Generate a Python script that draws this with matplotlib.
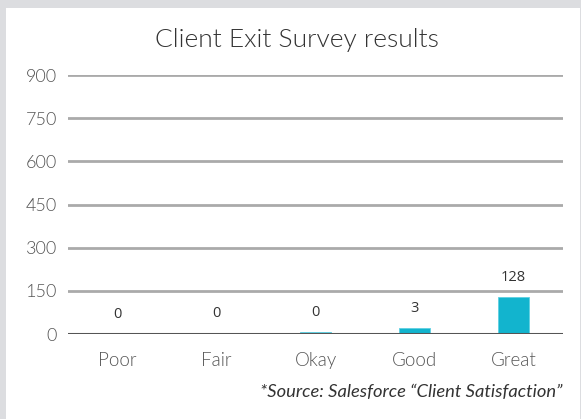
import matplotlib.pyplot as plt
from matplotlib.patches import Rectangle

# Survey data
categories = ["Poor", "Fair", "Okay", "Good", "Great"]
bar_heights = [0, 5, 8, 20, 128]
bar_labels = ["0", "0", "0", "3", "128"]
y_ticks = [0, 150, 300, 450, 600, 750, 900]

W, H = 581, 419
fig = plt.figure(figsize=(W / 100, H / 100), dpi=100)
fig.patch.set_facecolor("#dcdde0")

# white card on the gray frame
fig.patches.append(Rectangle((6 / W, 0), (580 - 6) / W, (H - 8) / H,
                             transform=fig.transFigure, facecolor="white",
                             edgecolor="none", zorder=-10))

left, right = 68 / W, 563 / W
bottom, top = 1 - 334 / H, 1 - 75 / H
ax = fig.add_axes([left, bottom, right - left, top - bottom])
ax.set_facecolor("none")

x = range(len(categories))
ax.bar(x, bar_heights, width=0.31, color="#12b4ce", edgecolor="#5fd0e2",
       linewidth=0.6, zorder=3)

for xi, h, lab in zip(x, bar_heights, bar_labels):
    ax.annotate(lab, (xi, h), xytext=(0, 14), textcoords="offset points",
                ha="center", va="center", fontsize=10.5, color="#333333",
                family="Open Sans")

ax.set_xlim(-0.5, len(categories) - 0.5)
ax.set_ylim(0, 900)
ax.set_yticks(y_ticks)
ax.set_yticklabels([str(t) for t in y_ticks], fontsize=13, color="#555555",
                   family="Lato", fontweight=300)
ax.set_xticks(list(x))
ax.set_xticklabels(categories, fontsize=13.5, color="#555555", family="Lato",
                   fontweight=300)
ax.tick_params(length=0)
ax.tick_params(axis="y", pad=8)
ax.tick_params(axis="x", pad=13)

for t in y_ticks[1:]:
    ax.axhline(t, color="#aaaaaa", linewidth=2, zorder=1)
ax.axhline(0, color="#555555", linewidth=2.2, zorder=4)
for s in ax.spines.values():
    s.set_visible(False)

fig.text(297 / W, 1 - 40 / H, "Client Exit Survey results", ha="center",
         va="center", fontsize=19, color="#333333", family="Lato",
         fontweight=300)
fig.text(562 / W, 1 - 392 / H, "*Source: Salesforce \u201cClient Satisfaction\u201d",
         ha="right", va="center", fontsize=13.2, color="#333333", family="Lato",
         style="italic")

fig.savefig("out.png", dpi=100, facecolor=fig.get_facecolor())
